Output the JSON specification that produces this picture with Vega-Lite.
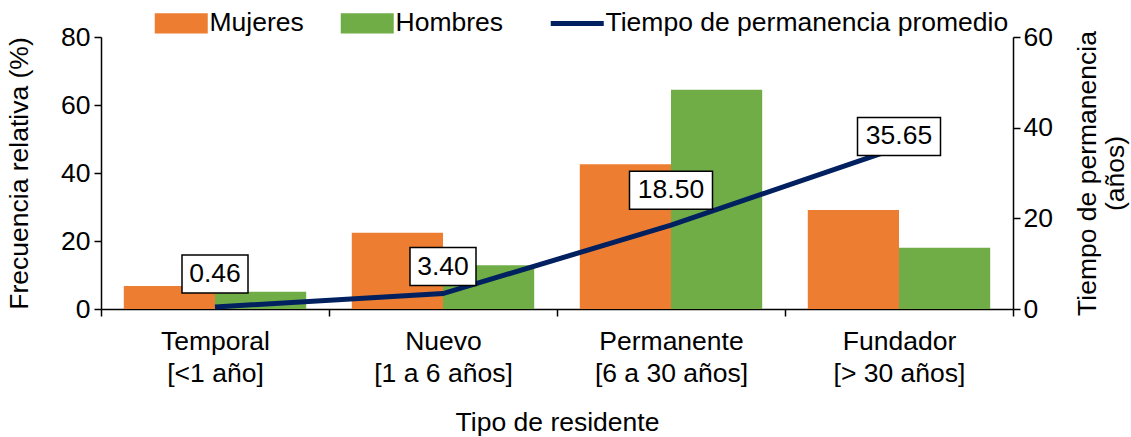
{
  "$schema": "https://vega.github.io/schema/vega-lite/v6.json",
  "width": 912,
  "height": 272,
  "autosize": {"type": "none"},
  "padding": {"left": 101, "top": 37, "right": 118, "bottom": 128},
  "background": "white",
  "config": {
    "font": "Liberation Sans",
    "view": {"stroke": null},
    "axis": {
      "labelFont": "Liberation Sans",
      "titleFont": "Liberation Sans",
      "labelFontSize": 26.5,
      "titleFontSize": 26.5,
      "labelColor": "#000000",
      "titleColor": "#000000",
      "titleFontWeight": "normal",
      "domainColor": "#000000",
      "tickColor": "#000000",
      "domainWidth": 1.5,
      "tickWidth": 1.5,
      "tickSize": 7,
      "grid": false
    },
    "text": {"font": "Liberation Sans"}
  },
  "datasets": {
    "frecuencia": [
      {"tipo": "Temporal", "sexo": "Mujeres", "frecuencia": 6.8},
      {"tipo": "Temporal", "sexo": "Hombres", "frecuencia": 5.1},
      {"tipo": "Nuevo", "sexo": "Mujeres", "frecuencia": 22.4},
      {"tipo": "Nuevo", "sexo": "Hombres", "frecuencia": 12.9},
      {"tipo": "Permanente", "sexo": "Mujeres", "frecuencia": 42.6},
      {"tipo": "Permanente", "sexo": "Hombres", "frecuencia": 64.5},
      {"tipo": "Fundador", "sexo": "Mujeres", "frecuencia": 29.1},
      {"tipo": "Fundador", "sexo": "Hombres", "frecuencia": 18.0}
    ],
    "tiempo": [
      {"tipo": "Temporal", "tiempo": 0.46},
      {"tipo": "Nuevo", "tiempo": 3.40},
      {"tipo": "Permanente", "tiempo": 18.50},
      {"tipo": "Fundador", "tiempo": 35.65}
    ]
  },
  "encoding": {
    "x": {
      "field": "tipo",
      "type": "nominal",
      "sort": ["Temporal", "Nuevo", "Permanente", "Fundador"],
      "scale": {"paddingInner": 0, "paddingOuter": 0},
      "axis": {
        "title": "Tipo de residente",
        "labelAngle": 0,
        "tickBand": "extent",
        "labelPadding": 12,
        "labelLineHeight": 32,
        "labelExpr": "[datum.label, {'Temporal': '[<1 año]', 'Nuevo': '[1 a 6 años]', 'Permanente': '[6 a 30 años]', 'Fundador': '[> 30 años]'}[datum.label]]",
        "titlePadding": 23
      }
    }
  },
  "layer": [
    {
      "data": {"name": "frecuencia"},
      "mark": {"type": "bar"},
      "encoding": {
        "xOffset": {"field": "sexo", "type": "nominal", "sort": ["Mujeres", "Hombres"], "scale": {"paddingInner": 0, "paddingOuter": 0.25}},
        "y": {
          "field": "frecuencia",
          "type": "quantitative",
          "scale": {"domain": [0, 80]},
          "axis": {"values": [0, 20, 40, 60, 80], "title": "Frecuencia relativa (%)", "labelPadding": 4, "titlePadding": 27}
        },
        "color": {
          "field": "sexo",
          "type": "nominal",
          "scale": {
            "domain": ["Mujeres", "Hombres", "Tiempo de permanencia promedio"],
            "range": ["#ED7D31", "#70AD47", "#002060"]
          },
          "legend": {
            "orient": "none",
            "legendX": 67,
            "legendY": -27,
            "direction": "horizontal",
            "title": null,
            "labelFont": "Liberation Sans",
            "labelFontSize": 26.5,
            "labelColor": "#000000",
            "labelLimit": 600,
            "labelOffset": 15,
            "columnPadding": 36,
            "symbolSize": 2809,
            "encode": {
              "symbols": {
                "update": {
                  "shape": {"signal": "datum.value === 'Tiempo de permanencia promedio' ? 'stroke' : 'M-1,-0.38H1V0.38H-1Z'"},
                  "fill": {"signal": "datum.value === 'Tiempo de permanencia promedio' ? 'transparent' : scale('color', datum.value)"},
                  "stroke": {"signal": "scale('color', datum.value)"},
                  "strokeWidth": {"signal": "datum.value === 'Tiempo de permanencia promedio' ? 5 : 0"},
                  "opacity": {"value": 1},
                  "fillOpacity": {"value": 1},
                  "strokeOpacity": {"value": 1}
                }
              }
            }
          }
        }
      }
    },
    {
      "data": {"name": "tiempo"},
      "encoding": {
        "y": {
          "field": "tiempo",
          "type": "quantitative",
          "scale": {"domain": [0, 60]},
          "axis": {
            "orient": "right",
            "values": [0, 20, 40, 60],
            "title": ["Tiempo de permanencia", "(años)"],
            "titleAngle": 270,
            "labelPadding": 3,
            "titlePadding": 21,
            "titleLineHeight": 28
          }
        }
      },
      "layer": [
        {
          "mark": {"type": "line", "strokeWidth": 5},
          "encoding": {"color": {"datum": "Tiempo de permanencia promedio"}}
        },
        {
          "transform": [{"filter": "datum.tipo === 'Temporal'"}],
          "layer": [
            {"mark": {"type": "point", "shape": "M-1,-0.576H1V0.576H-1Z", "size": 4356, "filled": true, "fill": "white", "stroke": "black", "strokeWidth": 1.5, "opacity": 1, "yOffset": -33}},
            {"mark": {"type": "text", "fontSize": 26.5, "color": "black", "yOffset": -33}, "encoding": {"text": {"field": "tiempo", "type": "quantitative", "format": ".2f"}}}
          ]
        },
        {
          "transform": [{"filter": "datum.tipo === 'Nuevo'"}],
          "layer": [
            {"mark": {"type": "point", "shape": "M-1,-0.576H1V0.576H-1Z", "size": 4356, "filled": true, "fill": "white", "stroke": "black", "strokeWidth": 1.5, "opacity": 1, "yOffset": -27}},
            {"mark": {"type": "text", "fontSize": 26.5, "color": "black", "yOffset": -27}, "encoding": {"text": {"field": "tiempo", "type": "quantitative", "format": ".2f"}}}
          ]
        },
        {
          "transform": [{"filter": "datum.tipo === 'Permanente'"}],
          "layer": [
            {"mark": {"type": "point", "shape": "M-1,-0.458H1V0.458H-1Z", "size": 6889, "filled": true, "fill": "white", "stroke": "black", "strokeWidth": 1.5, "opacity": 1, "yOffset": -35}},
            {"mark": {"type": "text", "fontSize": 26.5, "color": "black", "yOffset": -35}, "encoding": {"text": {"field": "tiempo", "type": "quantitative", "format": ".2f"}}}
          ]
        },
        {
          "transform": [{"filter": "datum.tipo === 'Fundador'"}],
          "layer": [
            {"mark": {"type": "point", "shape": "M-1,-0.458H1V0.458H-1Z", "size": 6889, "filled": true, "fill": "white", "stroke": "black", "strokeWidth": 1.5, "opacity": 1, "yOffset": -11}},
            {"mark": {"type": "text", "fontSize": 26.5, "color": "black", "yOffset": -11}, "encoding": {"text": {"field": "tiempo", "type": "quantitative", "format": ".2f"}}}
          ]
        }
      ]
    }
  ],
  "resolve": {"scale": {"y": "independent"}}
}
